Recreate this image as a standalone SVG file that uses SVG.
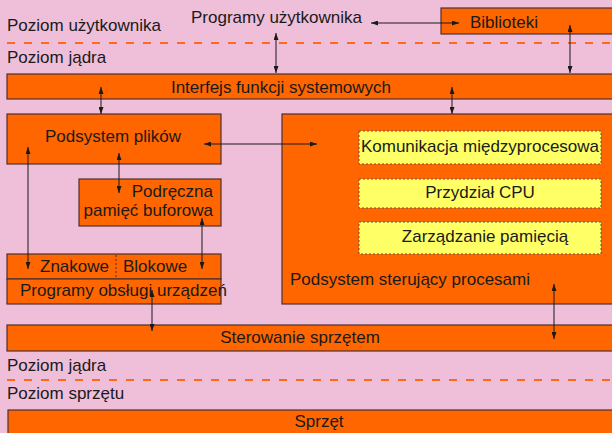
<svg xmlns="http://www.w3.org/2000/svg" width="612" height="433" viewBox="0 0 612 433">
<defs>
<marker id="ah" viewBox="0 0 7 5" refX="7" refY="2.5" markerWidth="7" markerHeight="5" markerUnits="userSpaceOnUse" orient="auto-start-reverse">
<path d="M0,0 L7,2.5 L0,5 z" fill="#1a1a1a"/>
</marker>
<style>
.t{font-family:"Liberation Sans",Arial,sans-serif;font-size:17px;fill:#1a1a1a}
.box{fill:#FF6600;stroke:#4d2f2f;stroke-width:1.2}
.yb{fill:#FFFF66;stroke:#555;stroke-width:1;stroke-dasharray:2 2}
.dl{stroke:#FF6A1A;stroke-width:2;stroke-dasharray:8 9;fill:none}
.c line{stroke:#1a1a1a;stroke-width:1;marker-start:url(#ah);marker-end:url(#ah)}
</style>
</defs>
<rect x="0" y="0" width="612" height="433" fill="#EFBED9"/>
<g id="levels">
<text class="t" x="7" y="31">Poziom użytkownika</text>
<line class="dl" x1="7" y1="43" x2="612" y2="43"/>
<text class="t" x="7" y="63">Poziom jądra</text>
<text class="t" x="7" y="371">Poziom jądra</text>
<line class="dl" x1="7" y1="380" x2="612" y2="380"/>
<text class="t" x="7" y="399">Poziom sprzętu</text>
</g>
<g id="programy"><text class="t" x="191" y="23">Programy użytkownika</text></g>
<g id="biblioteki"><rect class="box" x="441" y="8" width="175" height="26"/><text class="t" x="470" y="28">Biblioteki</text></g>
<g id="interfejs"><rect class="box" x="7" y="74" width="610" height="25"/><text class="t" x="281" y="93" text-anchor="middle">Interfejs funkcji systemowych</text></g>
<g id="pliki"><rect class="box" x="7" y="114" width="214" height="50"/><text class="t" x="113" y="142" text-anchor="middle">Podsystem plików</text></g>
<g id="podreczna"><rect class="box" x="79" y="179" width="142" height="47"/><text class="t" x="213" y="197" text-anchor="end">Podręczna</text><text class="t" x="213" y="216" text-anchor="end">pamięć buforowa</text></g>
<g id="znakowe"><rect class="box" x="7" y="254" width="214" height="25"/><line x1="116" y1="255" x2="116" y2="278" stroke="#4d2f2f" stroke-width="1" stroke-dasharray="2 2"/><text class="t" x="40" y="272">Znakowe</text><text class="t" x="123" y="272">Blokowe</text></g>
<g id="obsluga"><rect class="box" x="7" y="279" width="214" height="25"/><text class="t" x="20" y="296">Programy obsługi urządzeń</text></g>
<g id="procesy"><rect class="box" x="282" y="114" width="335" height="190"/><text class="t" x="290" y="285">Podsystem sterujący procesami</text></g>
<g id="komunikacja"><rect class="yb" x="359" y="131" width="242" height="33"/><text class="t" x="480" y="152" text-anchor="middle">Komunikacja międzyprocesowa</text></g>
<g id="cpu"><rect class="yb" x="359" y="179" width="242" height="29"/><text class="t" x="480" y="198" text-anchor="middle">Przydział CPU</text></g>
<g id="pamiec"><rect class="yb" x="359" y="222" width="242" height="32"/><text class="t" x="485" y="242" text-anchor="middle">Zarządzanie pamięcią</text></g>
<g id="sterowanie"><rect class="box" x="7" y="325" width="610" height="26"/><text class="t" x="300" y="343" text-anchor="middle">Sterowanie sprzętem</text></g>
<g id="sprzet"><rect class="box" x="8" y="410" width="610" height="30"/><text class="t" x="319" y="427" text-anchor="middle">Sprzęt</text></g>
<g id="connectors" class="c">
<line x1="371" y1="23" x2="459" y2="23"/>
<line x1="276" y1="33" x2="276" y2="73"/>
<line x1="570" y1="25" x2="570" y2="73"/>
<line x1="101" y1="87" x2="101" y2="114"/>
<line x1="452" y1="87" x2="452" y2="114"/>
<line x1="204" y1="144" x2="317" y2="144"/>
<line x1="119" y1="153" x2="119" y2="193"/>
<line x1="28" y1="147" x2="28" y2="269"/>
<line x1="202" y1="218" x2="202" y2="269"/>
<line x1="152" y1="290" x2="152" y2="331"/>
<line x1="554" y1="284" x2="554" y2="339"/>
</g>
</svg>
